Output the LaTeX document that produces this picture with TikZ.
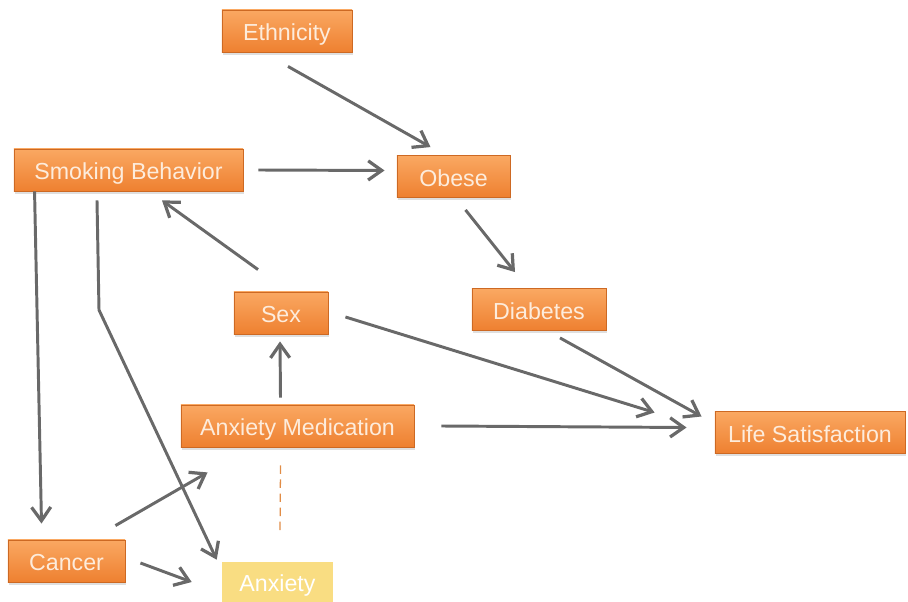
\documentclass[tikz,border=0pt]{standalone}
\usepackage{fontspec}
\setmainfont{Liberation Sans}
\usetikzlibrary{arrows.meta,calc,shadows}
\definecolor{boxtop}{RGB}{250,168,98}
\definecolor{boxbot}{RGB}{238,128,48}
\definecolor{boxline}{RGB}{205,105,35}
\definecolor{boxtext}{RGB}{253,236,220}
\definecolor{anxfill}{RGB}{249,221,130}
\definecolor{arrgray}{RGB}{105,105,105}
\definecolor{dashorange}{RGB}{225,140,70}
\begin{document}
\begin{tikzpicture}[x=0.025cm,y=-0.025cm]
		\tikzset{mybox/.style={font=\fontsize{16.5}{18}\selectfont,inner sep=0pt,text=boxtext,
				text height=16pt,text depth=2pt,
				top color=boxtop,bottom color=boxbot,draw=boxline,line width=0.6pt,
				minimum height=1.05cm,drop shadow={shadow xshift=1pt,shadow yshift=-2pt,opacity=0.25}},
			myarrow/.style={draw=arrgray,line width=2.1pt,-{Straight Barb[length=3.4mm,width=4.8mm,line width=2.3pt]}}}
		\useasboundingbox (0,0) rectangle (908,602);
		%Begin plot
		\node[mybox,minimum width=3.25cm] (eth) at (287,31) {Ethnicity};
		\node[mybox,minimum width=5.725cm] (smk) at (128.5,170) {Smoking Behavior};
		\node[mybox,minimum width=2.825cm] (obese) at (453.5,176.5) {Obese};
		\node[mybox,minimum width=2.35cm] (sex) at (281,313) {Sex};
		\node[mybox,minimum width=3.35cm] (diab) at (539,309.5) {Diabetes};
		\node[mybox,minimum width=5.825cm] (anxmed) at (297.5,426) {Anxiety Medication};
		\node[mybox,minimum width=4.75cm] (lifesat) at (810,432.5) {Life Satisfaction};
		\node[mybox,minimum width=2.925cm] (cancer) at (66.5,561) {Cancer};
		\node[font=\fontsize{16.5}{18}\selectfont,inner sep=0pt,text=white,fill=anxfill,
			text height=16pt,text depth=2pt,
			minimum width=2.775cm,minimum height=1.0cm] (anx) at (277.5,582) {Anxiety};
		%Arrows
		\draw[myarrow] ($(eth.south)+(1,14)$) -- ($(obese.north)+(-23,-8)$);
		\draw[myarrow] ($(smk.east)+(15,0)$) -- ($(obese.west)+(-12,-6)$);
		\draw[myarrow] ($(obese.south)+(12,12)$) -- ($(diab.north)+(-24,-16)$);
		\draw[myarrow] ($(sex.north)+(-23,-22)$) -- ($(smk.south)+(33.5,9)$);
		\draw[myarrow] ($(sex.east)+(17,4)$) -- ($(lifesat.west)+(-60,-20)$);
		\draw[myarrow] ($(diab.south)+(21,7)$) -- ($(lifesat.west)+(-13,-16)$);
		\draw[myarrow] ($(anxmed.north)+(-17,-7)$) -- ($(sex.south)+(-1,7)$);
		\draw[myarrow] ($(anxmed.east)+(27,0)$) -- ($(lifesat.west)+(-28,-5)$);
		\draw[myarrow] ($(smk.south west)+(21,0)$) -- ($(cancer.north)+(-25,-16)$);
		\draw[myarrow] ($(smk.south)+(-31.5,9)$) -- (99,310) -- ($(anx.north west)+(-5,-2)$);
		\draw[myarrow] ($(cancer.north east)+(-10,-14)$) -- ($(anxmed.south west)+(27,25)$);
		\draw[myarrow] ($(cancer.east)+(15,2)$) -- ($(anx.west)+(-30,0)$);
		\draw[dashorange,line width=0.9pt,dash pattern=on 6pt off 4pt] ($(anxmed.south)+(-17,18)$) -- ($(anx.north)+(2.5,-27)$);
	\end{tikzpicture}
\end{document}
